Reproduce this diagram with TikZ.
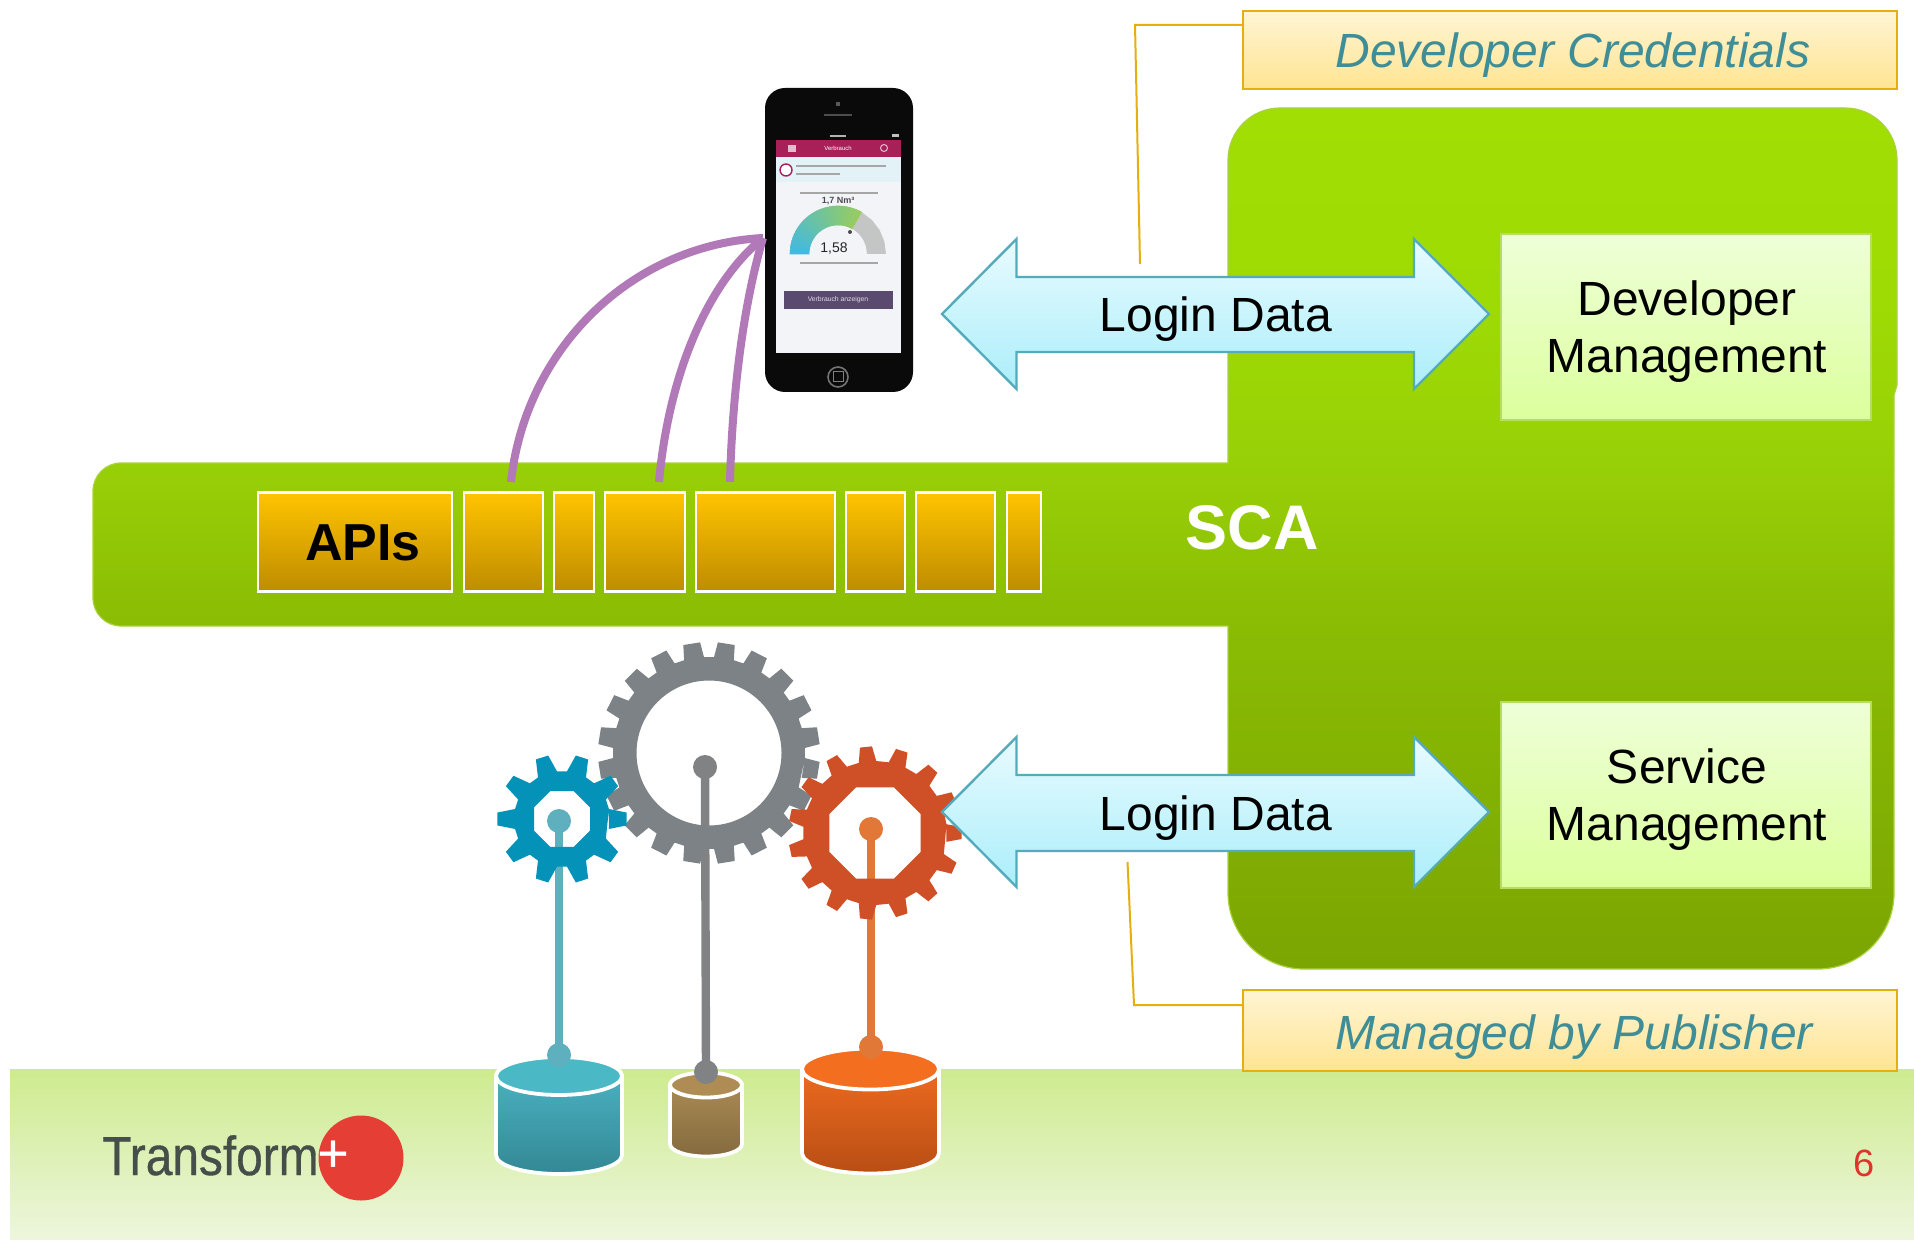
\documentclass[tikz,border=0pt]{standalone}
\usepackage{fontspec}
\setmainfont{Liberation Sans}
\definecolor{scaA}{HTML}{A0DE04}
\definecolor{scaB}{HTML}{9EDB04}
\definecolor{scaC}{HTML}{98D007}
\definecolor{scaD}{HTML}{8ABC04}
\definecolor{scaE}{HTML}{7BA502}
\pgfdeclareverticalshading{scagreen}{100bp}{color(0bp)=(scaE); color(25bp)=(scaE); color(44.9bp)=(scaD); color(54.4bp)=(scaC); color(63.9bp)=(scaB); color(75bp)=(scaA); color(100bp)=(scaA)}
\definecolor{scaedge}{HTML}{A9D23C}
\definecolor{bandtop}{HTML}{CEEB8F}
\definecolor{bandbot}{HTML}{EDF6DD}
\definecolor{mgtop}{HTML}{EEFFD8}
\definecolor{mgbot}{HTML}{DCFF9C}
\definecolor{mgedge}{HTML}{B6DC60}
\definecolor{lblborder}{HTML}{E6AE0F}
\definecolor{lbltop}{HTML}{FFF5D4}
\definecolor{lblbot}{HTML}{FFE492}
\definecolor{lbltext}{HTML}{3F8E97}
\definecolor{arrtop}{HTML}{E8FBFF}
\definecolor{arrbot}{HTML}{ABEEFA}
\definecolor{arredge}{HTML}{55ABBB}
\definecolor{apitop}{HTML}{FFC400}
\definecolor{apibot}{HTML}{BE8C00}
\definecolor{purplecurve}{HTML}{B279B8}
\definecolor{gearblue}{HTML}{0492B8}
\definecolor{geargray}{HTML}{7C8285}
\definecolor{gearred}{HTML}{CF4F27}
\definecolor{poleblue}{HTML}{5FB0BE}
\definecolor{polegray}{HTML}{808284}
\definecolor{polered}{HTML}{E27838}
\definecolor{logogray}{HTML}{464E4A}
\definecolor{logored}{HTML}{E53F35}
\definecolor{pagered}{HTML}{E0332C}
\definecolor{crimson}{HTML}{A82058}
\definecolor{gaugeblue}{HTML}{3FB9E4}
\definecolor{gaugegreen}{HTML}{98CC60}
\definecolor{gaugegray}{HTML}{C4C6C6}
\definecolor{btnpurple}{HTML}{5B4A70}
\definecolor{screenbg}{HTML}{F3F4F7}
\definecolor{infoband}{HTML}{E2F2F6}
\definecolor{tealface}{HTML}{4BB8C6}
\definecolor{tealtop}{HTML}{4AB0C0}
\definecolor{tealbot}{HTML}{338894}
\definecolor{brownface}{HTML}{B08C55}
\definecolor{browntop}{HTML}{A88A52}
\definecolor{brownbot}{HTML}{846A3E}
\definecolor{orangeface}{HTML}{F46E20}
\definecolor{orangetop}{HTML}{EC6A20}
\definecolor{orangebot}{HTML}{B84E14}
\newcommand{\fs}[2]{\fontsize{#1}{#2}\selectfont}
% gear: cx cy n root tip baseHalfAngle tipHalfAngle phase
\newcommand{\gearoutline}[8]{%
  ([shift={(#1,#2)}]{#8-#6}:#4)
  \foreach \k [evaluate=\k as \a using #8+\k*360/#3] in {1,...,#3}{
    -- ([shift={(#1,#2)}]{\a-#6}:#4) -- ([shift={(#1,#2)}]{\a-#7}:#5)
    -- ([shift={(#1,#2)}]{\a+#7}:#5) -- ([shift={(#1,#2)}]{\a+#6}:#4)
  } -- cycle}
\newcommand{\octagon}[3]{%
  ([shift={(#1,#2)}]22.5:#3) -- ([shift={(#1,#2)}]67.5:#3) -- ([shift={(#1,#2)}]112.5:#3) -- ([shift={(#1,#2)}]157.5:#3) -- ([shift={(#1,#2)}]202.5:#3) -- ([shift={(#1,#2)}]247.5:#3) -- ([shift={(#1,#2)}]292.5:#3) -- ([shift={(#1,#2)}]337.5:#3) -- cycle}
% cylinder: x ytop ybot rx ry topcol sidetop sidebot
\newcommand{\cylfig}[8]{%
  \pgfmathsetmacro\xl{#1-#4}\pgfmathsetmacro\xr{#1+#4}%
  \pgfmathsetmacro\kx{.5523*#4}\pgfmathsetmacro\ky{.5523*#5}%
  \path[draw=white,line width=1.9pt,top color=#7,bottom color=#8]
    (\xl,#2) -- (\xl,#3)
    .. controls (\xl,#3+\ky) and (#1-\kx,#3+#5) .. (#1,#3+#5)
    .. controls (#1+\kx,#3+#5) and (\xr,#3+\ky) .. (\xr,#3)
    -- (\xr,#2) -- cycle;
  \path[draw=white,line width=1.9pt,fill=#6] (#1,#2) ellipse [x radius=#4,y radius=#5];
}
\tikzset{
  apibox/.style={draw=white,line width=1.1pt,top color=apitop,bottom color=apibot,minimum height=49.5pt,inner sep=0pt},
  mgmtbox/.style={draw=mgedge,line width=1pt,top color=mgtop,bottom color=mgbot,minimum width=185pt,minimum height=93pt,inner sep=0pt,align=center,font=\fs{24}{28.5}},
  lblbox/.style={draw=lblborder,line width=1.2pt,top color=lbltop,bottom color=lblbot,inner sep=0pt,minimum width=327pt},
  lbltxt/.style={text=lbltext,font=\fs{24}{28}\itshape,inner sep=0pt},
  leader/.style={draw=lblborder,line width=1pt},
  linkarrow/.style={draw=arredge,line width=1.2pt,top color=arrtop,bottom color=arrbot,line join=miter},
  arrowtext/.style={font=\fs{24}{28},inner sep=0pt,text=black},
  curve/.style={draw=purplecurve,line width=4pt},
  pole/.style={line width=4.2pt},
}
\begin{document}
\begin{tikzpicture}[x=0.5pt,y=-0.5pt]
\useasboundingbox (0,0) rectangle (1914,1240);
\fill[white] (0,0) rectangle (1914,1240);
% bottom band
\path[top color=bandtop,bottom color=bandbot] (10,1069) rectangle (1914,1240);
% SCA green shape
\path[shading=scagreen,draw=scaedge,line width=.6pt]
  (1228,300) [rounded corners=26pt] -- (1228,108) -- (1897,108) [sharp corners] -- (1897,385) -- (1894,395)
  [rounded corners=38pt] -- (1894,969) -- (1228,969) [sharp corners] -- (1228,626)
  [rounded corners=14pt] -- (93,626) -- (93,463) [sharp corners] -- (1228,463) -- cycle;
\node[font=\fs{31.5}{36}\bfseries,text=white,inner sep=0pt] (sca) at (1252,528) {SCA};
% management boxes
\node[mgmtbox] (devmgmt) at (1686,327) {};
\node[mgmtbox] (svcmgmt) at (1686,794.5) {};
\node[font=\fs{24}{28.5},align=center,inner sep=0pt] (devmgmttxt) at (1687,332) {Developer\\Management};
\node[font=\fs{24}{28.5},align=center,inner sep=0pt] (svcmgmttxt) at (1687,800) {Service\\Management};
% API boxes
\node[apibox,minimum width=97pt] (a0) at (355,542) {};
\node[font=\fs{26}{30}\bfseries,inner sep=0pt] (apilabel) at (363,543) {APIs};
\node[apibox,minimum width=39.5pt] (a1) at (503.5,542) {};
\node[apibox,minimum width=20pt]   (a2) at (574,542) {};
\node[apibox,minimum width=40pt]   (a3) at (645,542) {};
\node[apibox,minimum width=69.5pt] (a4) at (765.5,542) {};
\node[apibox,minimum width=29.5pt] (a5) at (875.5,542) {};
\node[apibox,minimum width=39.5pt] (a6) at (955.5,542) {};
\node[apibox,minimum width=17pt]   (a7) at (1024,542) {};
% poles
\coordinate (kb1) at (559,821); \coordinate (kb2) at (559,1055);
\coordinate (kg1) at (705,767); \coordinate (kg2) at (706,1072);
\coordinate (kr1) at (871,829); \coordinate (kr2) at (871,1047);
% cylinders
\cylfig{559}{1076}{1155}{63}{19}{tealface}{tealtop}{tealbot}
\cylfig{706}{1085}{1144}{36}{12.5}{brownface}{browntop}{brownbot}
\cylfig{870.5}{1069}{1153}{68.5}{20.5}{orangeface}{orangetop}{orangebot}
\draw[pole,poleblue] (kb1) -- (kb2);
\draw[pole,polegray] (kg1) -- (kg2);
\draw[pole,polered] (kr1) -- (kr2);
\foreach \n/\c in {kb1/poleblue,kb2/poleblue,kg1/polegray,kg2/polegray,kr1/polered,kr2/polered}
  \fill[\c] (\n) circle [radius=12];
% gears
\fill[geargray,even odd rule] (709,753) circle [radius=72.5]
  \gearoutline{709}{753}{20}{96}{111}{6}{4.4}{9};
\fill[gearblue,even odd rule] \octagon{562}{819}{30.3}
  \gearoutline{562}{819}{10}{48}{65}{12}{5.7}{0};
\fill[gearred,even odd rule] \octagon{875}{833}{49.5}
  \gearoutline{875}{833}{15}{72}{86.7}{7}{4}{0};
% phone
\fill[black!96] (765,88) [rounded corners=10pt] rectangle (913,392);
\fill[screenbg] (776,140) rectangle (901,353);
\fill[crimson] (776,140) rectangle (901,157);
\fill[infoband] (776,157) rectangle (901,182);
\fill[black!65] (836,102) rectangle (840,106);
\fill[black!70] (824,114) rectangle (852,116);
\fill[black!30] (830,135) rectangle (846,137);
\fill[black!25] (892,134) rectangle (899,137);
\node[font=\fs{3}{4},text=white,inner sep=0pt] (ph0) at (838,148) {Verbrauch};
\fill[white!70!crimson] (788,145) rectangle (796,152);
\draw[white!70!crimson,line width=.5pt] (884,148) circle [radius=3.5];
\draw[crimson,line width=.7pt,fill=white] (786,170) circle [radius=6];
\fill[gray!70] (796,165) rectangle (886,167);
\fill[gray!70] (796,173) rectangle (840,175);
\fill[gray!70] (800,192) rectangle (878,194);
\fill[gray!70] (800,262) rectangle (878,264);
\node[font=\fs{4.5}{5}\bfseries,text=black!70,inner sep=0pt] (ph1) at (838,201) {1,7 Nm³};
\foreach \t [evaluate=\t as \b using {\t+4}, evaluate=\t as \p using {(180-\t)/120*100}] in {60,64,...,176}
  \filldraw[fill=gaugegreen!\p!gaugeblue,draw=gaugegreen!\p!gaugeblue,line width=.3pt] ([shift={(838,254)}]{-\t}:48) -- ([shift={(838,254)}]{-\b}:48) -- ([shift={(838,254)}]{-\b}:29) -- ([shift={(838,254)}]{-\t}:29) -- cycle;
\fill[gaugegray] ([shift={(838,254)}]0:48) -- ([shift={(838,254)}]-15:48) -- ([shift={(838,254)}]-30:48) -- ([shift={(838,254)}]-45:48) -- ([shift={(838,254)}]-60:48) -- ([shift={(838,254)}]-60:29) -- ([shift={(838,254)}]-45:29) -- ([shift={(838,254)}]-30:29) -- ([shift={(838,254)}]-15:29) -- ([shift={(838,254)}]0:29) -- cycle;
\fill[black!70] (850,232) circle [radius=2];
\node[font=\fs{7}{8},text=black!85,inner sep=0pt] (ph2) at (834,249) {1,58};
\fill[btnpurple] (784,291) rectangle (893,309);
\node[font=\fs{3.4}{4},text=white!80!btnpurple,inner sep=0pt] (ph3) at (838,300) {Verbrauch anzeigen};
\draw[black!55,line width=.8pt] (838,377) circle [radius=10];
\draw[black!50,line width=.5pt] (833,372) rectangle (843,382);
% purple connectors
\coordinate (port) at (763,238);
\coordinate (p1) at (511,482);
\coordinate (p2) at (659,482);
\coordinate (p3) at (730,482);
\draw[curve] (p1) .. controls (525,350) and (630,245) .. (port);
\draw[curve] (p2) .. controls (668,380) and (705,285) .. (port);
\draw[curve] (p3) .. controls (732,400) and (742,310) .. (port);
% login arrows
\path[linkarrow] (942,314) -- (1016.5,239) -- (1016.5,277) -- (1414,277) -- (1414,239) -- (1489,314) -- (1414,389) -- (1414,352) -- (1016.5,352) -- (1016.5,389) -- cycle;
\node[arrowtext] (login1) at (1216,319) {Login Data};
\path[linkarrow] (942,812) -- (1016.5,737) -- (1016.5,775) -- (1414,775) -- (1414,737) -- (1489,812) -- (1414,887) -- (1414,851) -- (1016.5,851) -- (1016.5,887) -- cycle;
\node[arrowtext] (login2) at (1216,818) {Login Data};
% labels
\node[lblbox,minimum height=39pt] (devcred) at (1570,50) {};
\node[lblbox,minimum height=40.5pt] (mgdpub) at (1570,1030.5) {};
\node[lbltxt] (devcredtxt) at (1573,55) {Developer Credentials};
\node[lbltxt] (mgdpubtxt) at (1574,1037) {Managed by Publisher};
\coordinate (t1) at (1135,25); \coordinate (t2) at (1140,264);
\coordinate (b1) at (1134,1005); \coordinate (b2) at (1127.5,862);
\draw[leader] (devcred.west |- t1) -- (t1) -- (t2);
\draw[leader] (mgdpub.west |- b1) -- (b1) -- (b2);
% logo
\fill[logored] (361,1158) circle [radius=42.5];
\node[font=\fs{27.5}{30}\addfontfeature{FakeBold=0.6},text=logogray,anchor=base west,inner sep=0pt,xscale=.87] (logo) at (102,1175) {Transform};
\node[font=\fs{26.5}{30}\addfontfeature{FakeBold=0.6},text=white,inner sep=0pt] (plus) at (333,1156) {+};
% page number
\node[font=\fs{19}{22},text=pagered,inner sep=0pt] (pageno) at (1864.5,1163) {6};
\end{tikzpicture}
\end{document}
